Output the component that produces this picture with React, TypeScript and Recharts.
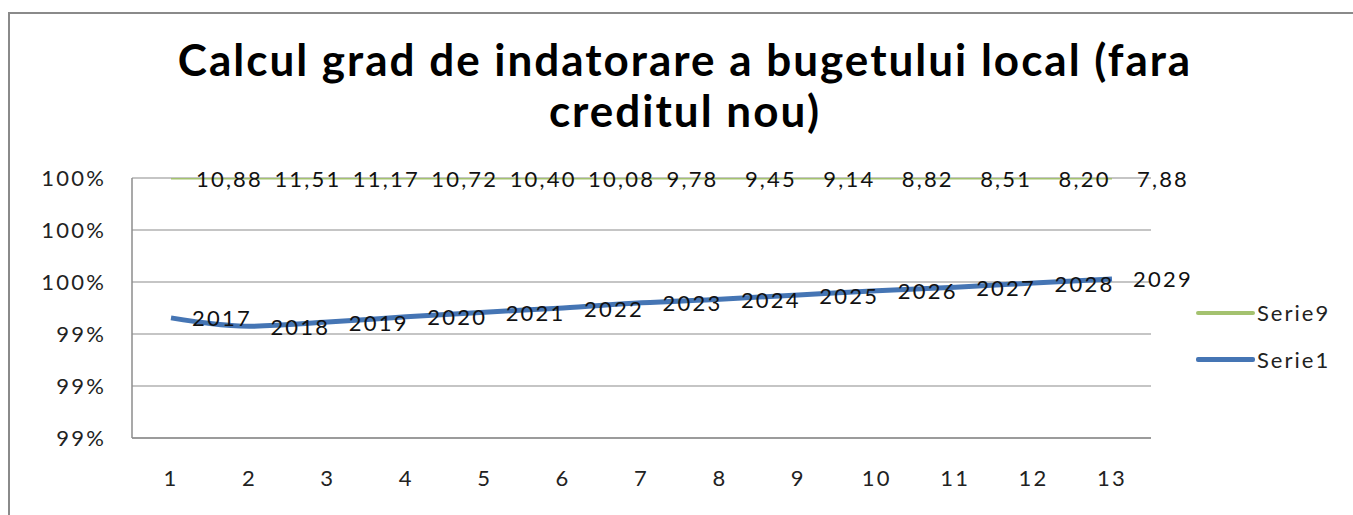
import React from 'react';
import { LineChart, Line, XAxis, YAxis, CartesianGrid } from 'recharts';

const categories = ['1', '2', '3', '4', '5', '6', '7', '8', '9', '10', '11', '12', '13'];
const serie1 = [0.99462, 0.9943, 0.99446, 0.99466, 0.99484, 0.995, 0.9952, 0.99534, 0.9955, 0.99566, 0.9958, 0.99596, 0.99612];
const serie9 = [1, 1, 1, 1, 1, 1, 1, 1, 1, 1, 1, 1, 1];
const serie1Labels = ['2017', '2018', '2019', '2020', '2021', '2022', '2023', '2024', '2025', '2026', '2027', '2028', '2029'];
const serie9Labels = ['10,88', '11,51', '11,17', '10,72', '10,40', '10,08', '9,78', '9,45', '9,14', '8,82', '8,51', '8,20', '7,88'];
const yTicks = [0.99, 0.992, 0.994, 0.996, 0.998, 1.0];
const seriesNames = ['Serie9', 'Serie1'];

const data = categories.map((c, i) => ({ cat: c, serie1: serie1[i], serie9: serie9[i] }));

const FONT = 'Lato, "Open Sans", sans-serif';
const GREEN = '#A4C26F';
const BLUE = '#4575B4';
const seriesColors: Record<string, string> = { Serie9: GREEN, Serie1: BLUE };

const makeLabel = (labels: string[], dx: number) => (props: any) => {
  const { x, y, index } = props;
  return (
    <text
      key={`l-${index}`}
      x={x + dx}
      y={y}
      dominantBaseline="central"
      textAnchor="start"
      fontFamily={FONT}
      fontSize={22}
      letterSpacing={2.2}
      fill="#111"
    >
      {labels[index]}
    </text>
  );
};

export default function App() {
  return (
    <div style={{ position: 'absolute', left: 0, top: 0, width: 1353, height: 515, background: '#fff', overflow: 'hidden' }}>
      <div
        style={{
          position: 'absolute',
          left: 8,
          top: 12,
          width: 1400,
          height: 600,
          borderLeft: '2px solid #8a8a8a',
          borderTop: '2px solid #8a8a8a',
        }}
      />
      <div
        style={{
          position: 'absolute',
          left: 0,
          top: 34,
          width: 1370,
          textAlign: 'center',
          fontFamily: FONT,
          fontWeight: 700,
          fontSize: 44,
          letterSpacing: 2,
          lineHeight: '51px',
          color: '#000',
        }}
      >
        Calcul grad de indatorare a bugetului local (fara
        <br />
        creditul nou)
      </div>
      <div style={{ position: 'absolute', left: 0, top: 0 }}>
        <LineChart
          width={1353}
          height={515}
          data={data}
          margin={{ top: 178, right: 202, bottom: 0, left: 0 }}
        >
          <CartesianGrid vertical={false} stroke="#8c8c8c" strokeWidth={1.2} />
          <XAxis
            dataKey="cat"
            padding={{ left: 39, right: 39 }}
            axisLine={{ stroke: '#8c8c8c', strokeWidth: 1.5 }}
            tickLine={false}
            tickSize={0}
            tickMargin={32}
            height={77}
            tick={{ fontFamily: FONT, fontSize: 22, fill: '#222', letterSpacing: 2.2 }}
            interval={0}
          />
          <YAxis
            domain={[0.99, 1.0]}
            ticks={yTicks}
            width={132}
            axisLine={{ stroke: '#8c8c8c', strokeWidth: 1.5 }}
            tickLine={false}
            tickSize={0}
            tickMargin={26}
            tickFormatter={(v: number) => `${Math.round(v * 100)}%`}
            tick={{ fontFamily: FONT, fontSize: 22, fill: '#222', letterSpacing: 2.2 }}
            allowDataOverflow
          />
          <Line
            name="Serie9"
            dataKey="serie9"
            type="linear"
            stroke={GREEN}
            strokeWidth={3}
            dot={false}
            isAnimationActive={false}
            label={makeLabel(serie9Labels, 25)}
          />
          <Line
            name="Serie1"
            dataKey="serie1"
            type="monotone"
            stroke={BLUE}
            strokeWidth={5}
            dot={false}
            isAnimationActive={false}
            label={makeLabel(serie1Labels, 21)}
          />
        </LineChart>
      </div>
      <div
        style={{
          position: 'absolute',
          left: 1196,
          top: 289,
          fontFamily: FONT,
          fontSize: 22,
          letterSpacing: 2,
          color: '#222',
        }}
      >
        {seriesNames.map((n) => (
          <div key={n} style={{ display: 'flex', alignItems: 'center', height: 47 }}>
            <div
              style={{
                width: 59,
                height: n === 'Serie1' ? 5 : 4,
                background: seriesColors[n],
                borderRadius: 2,
              }}
            />
            <span style={{ marginLeft: 2 }}>{n}</span>
          </div>
        ))}
      </div>
    </div>
  );
}
